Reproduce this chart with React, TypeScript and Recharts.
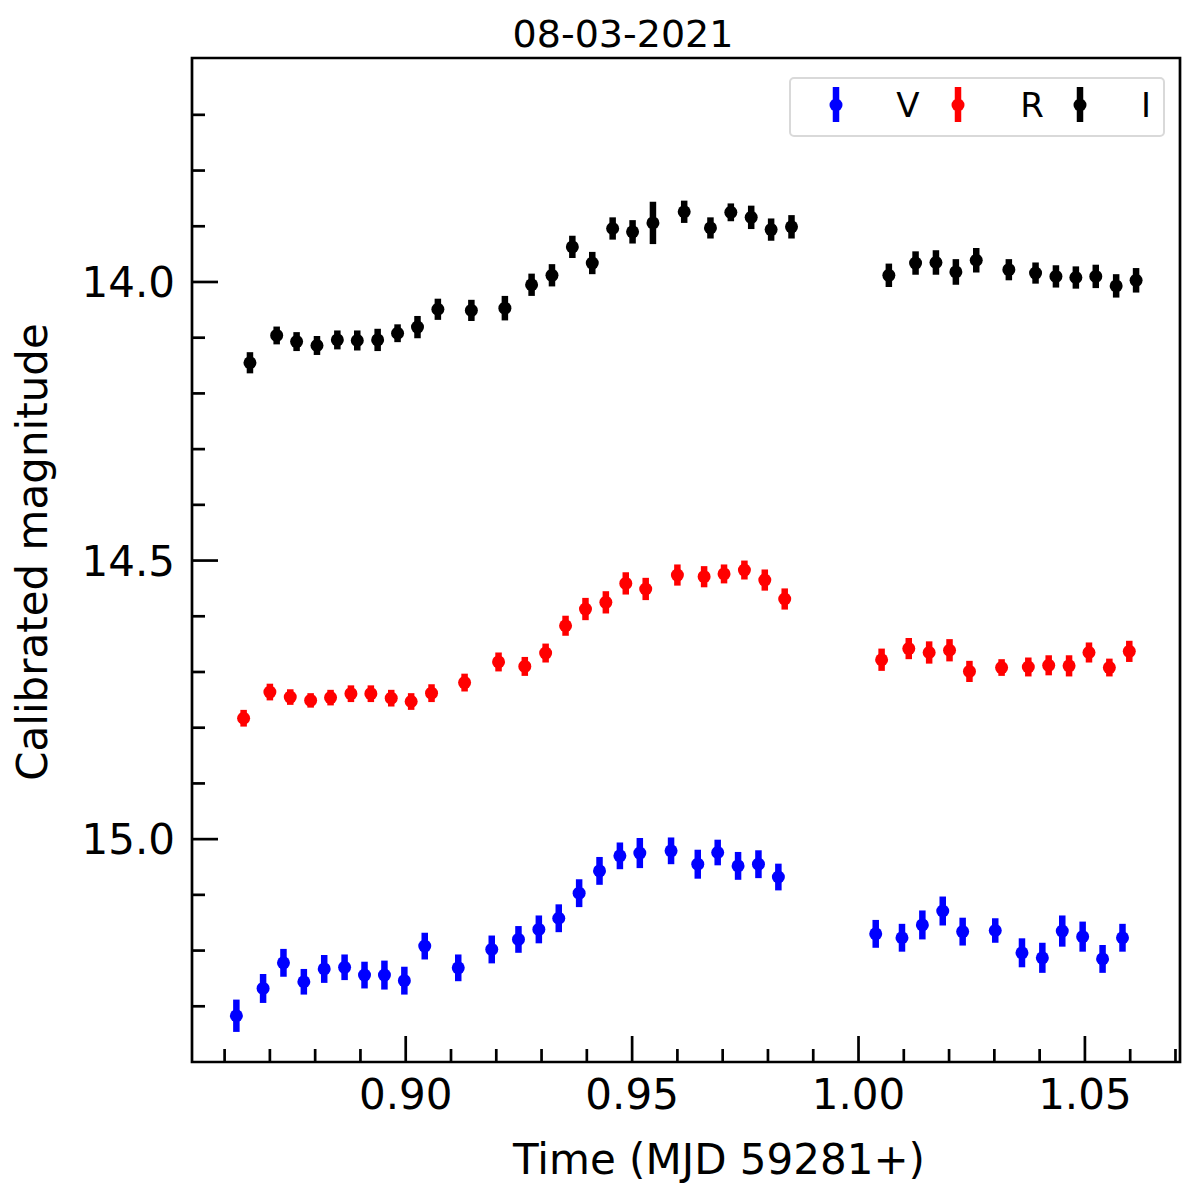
import { ScatterChart, Scatter, XAxis, YAxis, ErrorBar, ReferenceArea } from 'recharts'

const V_TIME = [0.8626, 0.8685, 0.873, 0.8775, 0.882, 0.8865, 0.8909, 0.8953, 0.8997, 0.9042, 0.9116, 0.919, 0.9249, 0.9294, 0.9338, 0.9383, 0.9428, 0.9473, 0.9517, 0.9586, 0.9645, 0.9689, 0.9734, 0.9779, 0.9823, 1.0038, 1.0096, 1.0141, 1.0186, 1.023, 1.0302, 1.0361, 1.0406, 1.045, 1.0495, 1.0539, 1.0583]
const V_MAG = [15.317, 15.268, 15.222, 15.256, 15.233, 15.23, 15.244, 15.244, 15.254, 15.192, 15.231, 15.198, 15.18, 15.162, 15.142, 15.097, 15.057, 15.03, 15.025, 15.021, 15.045, 15.024, 15.048, 15.045, 15.068, 15.17, 15.177, 15.154, 15.129, 15.166, 15.164, 15.204, 15.213, 15.165, 15.175, 15.215, 15.177]
const V_ERR = [0.029, 0.026, 0.025, 0.023, 0.025, 0.023, 0.024, 0.026, 0.025, 0.024, 0.024, 0.025, 0.024, 0.025, 0.025, 0.025, 0.025, 0.024, 0.027, 0.024, 0.026, 0.023, 0.025, 0.025, 0.024, 0.025, 0.025, 0.026, 0.026, 0.025, 0.022, 0.026, 0.027, 0.028, 0.027, 0.025, 0.025]

const R_TIME = [0.8642, 0.87, 0.8745, 0.879, 0.8834, 0.8879, 0.8923, 0.8968, 0.9012, 0.9057, 0.913, 0.9205, 0.9263, 0.9309, 0.9353, 0.9397, 0.9442, 0.9486, 0.953, 0.96, 0.9659, 0.9703, 0.9748, 0.9793, 0.9837, 1.0051, 1.0111, 1.0156, 1.0201, 1.0245, 1.0316, 1.0375, 1.042, 1.0465, 1.0509, 1.0554, 1.0598]
const R_MAG = [14.783, 14.736, 14.745, 14.751, 14.746, 14.739, 14.739, 14.747, 14.753, 14.738, 14.719, 14.682, 14.69, 14.666, 14.617, 14.587, 14.575, 14.541, 14.551, 14.526, 14.529, 14.524, 14.517, 14.535, 14.569, 14.678, 14.658, 14.665, 14.661, 14.699, 14.692, 14.691, 14.688, 14.689, 14.665, 14.692, 14.663]
const R_ERR = [0.015, 0.015, 0.014, 0.013, 0.014, 0.015, 0.015, 0.015, 0.015, 0.016, 0.016, 0.017, 0.017, 0.017, 0.018, 0.02, 0.02, 0.02, 0.02, 0.019, 0.019, 0.017, 0.017, 0.019, 0.019, 0.02, 0.019, 0.02, 0.02, 0.019, 0.015, 0.017, 0.018, 0.019, 0.018, 0.016, 0.019]

const I_TIME = [0.8656, 0.8715, 0.8759, 0.8804, 0.8849, 0.8893, 0.8938, 0.8982, 0.9026, 0.9071, 0.9145, 0.9219, 0.9278, 0.9323, 0.9368, 0.9412, 0.9457, 0.9501, 0.9546, 0.9615, 0.9673, 0.9718, 0.9763, 0.9807, 0.9852, 1.0067, 1.0126, 1.0171, 1.0215, 1.026, 1.0332, 1.0391, 1.0436, 1.048, 1.0524, 1.0569, 1.0613]
const I_MAG = [14.145, 14.096, 14.107, 14.114, 14.104, 14.105, 14.104, 14.092, 14.081, 14.049, 14.051, 14.047, 14.005, 13.988, 13.937, 13.966, 13.904, 13.91, 13.894, 13.874, 13.903, 13.875, 13.884, 13.906, 13.901, 13.988, 13.966, 13.965, 13.982, 13.961, 13.978, 13.984, 13.99, 13.992, 13.99, 14.007, 13.997]
const I_ERR = [0.019, 0.016, 0.017, 0.017, 0.017, 0.018, 0.02, 0.016, 0.02, 0.019, 0.019, 0.022, 0.02, 0.02, 0.02, 0.02, 0.02, 0.021, 0.038, 0.02, 0.019, 0.016, 0.021, 0.02, 0.021, 0.021, 0.021, 0.022, 0.023, 0.022, 0.019, 0.019, 0.02, 0.02, 0.021, 0.021, 0.022]

const X_MAJOR = [0.9, 0.95, 1.0, 1.05]
const X_MINOR = [0.86, 0.87, 0.88, 0.89, 0.91, 0.92, 0.93, 0.94, 0.96, 0.97, 0.98, 0.99, 1.01, 1.02, 1.03, 1.04, 1.06, 1.07]
const Y_MAJOR = [14.0, 14.5, 15.0]
const Y_MINOR = [13.7, 13.8, 13.9, 14.1, 14.2, 14.3, 14.4, 14.6, 14.7, 14.8, 14.9, 15.1, 15.2, 15.3]

const X_DOMAIN = [0.8528, 1.071]
const Y_DOMAIN = [13.598, 15.4]

const FONT = 'DejaVu Sans'

const toRows = (t: number[], m: number[], e: number[]) => t.map((x, i) => ({ t: x, m: m[i], e: e[i] }))
const vData = toRows(V_TIME, V_MAG, V_ERR)
const rData = toRows(R_TIME, R_MAG, R_ERR)
const iData = toRows(I_TIME, I_MAG, I_ERR)

const isIn = (v: number, list: number[]) => list.some((x) => Math.abs(x - v) < 1e-6)

function XTick(props: any) {
  const { x, y, payload } = props
  const major = isIn(payload.value, X_MAJOR)
  return (
    <g>
      <line x1={x} x2={x} y1={y} y2={y - (major ? 26 : 13)} stroke="#000" strokeWidth={2.7} />
      {major && (
        <text x={x} y={y + 47} textAnchor="middle" fontSize={42} fontFamily={FONT} fill="#000">
          {payload.value.toFixed(2)}
        </text>
      )}
    </g>
  )
}

function YTick(props: any) {
  const { x, y, payload } = props
  const major = isIn(payload.value, Y_MAJOR)
  return (
    <g>
      <line x1={x} x2={x + (major ? 26 : 13)} y1={y} y2={y} stroke="#000" strokeWidth={2.7} />
      {major && (
        <text x={x - 17} y={y + 15} textAnchor="end" fontSize={42} fontFamily={FONT} fill="#000">
          {payload.value.toFixed(1)}
        </text>
      )}
    </g>
  )
}

const dot = (color: string) => (p: any) => <circle cx={p.cx} cy={p.cy} r={6.5} fill={color} />

const LEGEND = [
  { name: 'V', color: '#0000ff', mx: 836, tx: 908 },
  { name: 'R', color: '#ff0000', mx: 958, tx: 1032 },
  { name: 'I', color: '#000000', mx: 1080, tx: 1146 },
]

export default function App() {
  return (
    <div style={{ position: 'absolute', left: 0, top: 0, width: 1200, height: 1200, background: '#fff' }}>
      <ScatterChart width={1200} height={1200} margin={{ top: 58, right: 20, bottom: 78, left: 92 }}>
        <XAxis
          type="number"
          dataKey="t"
          domain={X_DOMAIN}
          allowDataOverflow
          ticks={[...X_MINOR, ...X_MAJOR].sort((a, b) => a - b)}
          interval={0}
          tick={<XTick />}
          tickSize={0}
          tickMargin={0}
          tickLine={false}
          axisLine={false}
          height={60}
          label={(p: any) => (
            <text x={719} y={1174} textAnchor="middle" fontSize={42} fontFamily={FONT} fill="#000">
              Time (MJD 59281+)
            </text>
          )}
        />
        <YAxis
          type="number"
          dataKey="m"
          reversed
          domain={Y_DOMAIN}
          allowDataOverflow
          ticks={[...Y_MINOR, ...Y_MAJOR].sort((a, b) => a - b)}
          interval={0}
          tick={<YTick />}
          tickSize={0}
          tickMargin={0}
          tickLine={false}
          axisLine={false}
          width={100}
          label={(p: any) => (
            <text
              x={47}
              y={552}
              transform="rotate(-90 47 552)"
              textAnchor="middle"
              fontSize={42}
              fontFamily={FONT}
              fill="#000"
            >
              Calibrated magnitude
            </text>
          )}
        />
        <Scatter data={vData} fill="#0000ff" shape={dot('#0000ff')} isAnimationActive={false}>
          <ErrorBar dataKey="e" direction="y" width={0} stroke="#0000ff" strokeWidth={6.5} />
        </Scatter>
        <Scatter data={rData} fill="#ff0000" shape={dot('#ff0000')} isAnimationActive={false}>
          <ErrorBar dataKey="e" direction="y" width={0} stroke="#ff0000" strokeWidth={6.5} />
        </Scatter>
        <Scatter data={iData} fill="#000000" shape={dot('#000000')} isAnimationActive={false}>
          <ErrorBar dataKey="e" direction="y" width={0} stroke="#000000" strokeWidth={6.5} />
        </Scatter>
        <ReferenceArea
          x1={X_DOMAIN[0]}
          x2={X_DOMAIN[1]}
          y1={Y_DOMAIN[0]}
          y2={Y_DOMAIN[1]}
          fill="none"
          fillOpacity={0}
          stroke="#000"
          strokeWidth={2.7}
          ifOverflow="visible"
        />
      </ScatterChart>
      <svg width={1200} height={1200} style={{ position: 'absolute', left: 0, top: 0, pointerEvents: 'none' }}>
        <text x={623} y={47} textAnchor="middle" fontSize={38} fontFamily={FONT} fill="#000">
          08-03-2021
        </text>
        <rect x={790} y={78} width={374} height={58} rx={4} fill="#fff" fillOpacity={0.8} stroke="#d9d9d9" strokeWidth={2} />
        {LEGEND.map((l) => (
          <g key={l.name}>
            <line x1={l.mx} x2={l.mx} y1={87} y2={122} stroke={l.color} strokeWidth={6.5} />
            <circle cx={l.mx} cy={105} r={6.5} fill={l.color} />
            <text x={l.tx} y={117} textAnchor="middle" fontSize={34} fontFamily={FONT} fill="#000">
              {l.name}
            </text>
          </g>
        ))}
      </svg>
    </div>
  )
}
